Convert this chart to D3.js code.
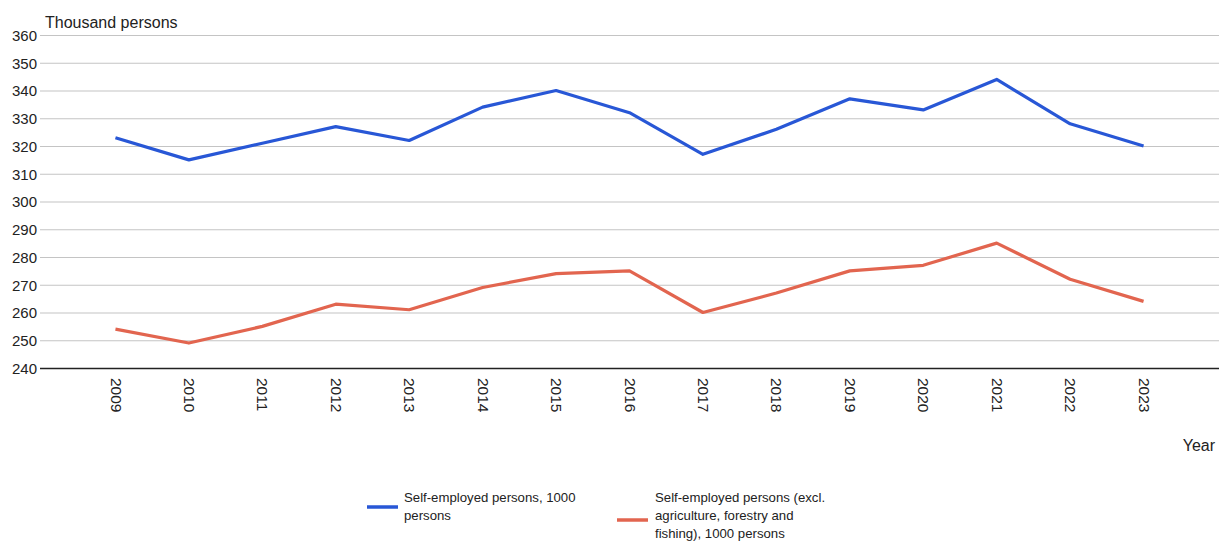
<!DOCTYPE html>
<html>
<head>
<meta charset="utf-8">
<script src="https://cdn.jsdelivr.net/npm/d3@7"></script>
<style>
  html, body { margin: 0; padding: 0; background: #fff; }
  svg { display: block; font-family: "Liberation Sans", Arial, sans-serif; }
</style>
</head>
<body>
<svg id="chart" width="1219" height="545"></svg>
<script>
// Years on the horizontal axis
const years = ["2009","2010","2011","2012","2013","2014","2015","2016","2017","2018","2019","2020","2021","2022","2023"];
// Self-employed persons, thousands
const selfEmployed = [323, 315, 321, 327, 322, 334, 340, 332, 317, 326, 337, 333, 344, 328, 320];
// Self-employed persons excluding agriculture, forestry and fishing, thousands
const selfEmployedExclAgri = [254, 249, 255, 263, 261, 269, 274, 275, 260, 267, 275, 277, 285, 272, 264];
// Vertical axis ticks
const yTicks = [240, 250, 260, 270, 280, 290, 300, 310, 320, 330, 340, 350, 360];

const seriesNames = [
  ["Self-employed persons, 1000", "persons"],
  ["Self-employed persons (excl.", "agriculture, forestry and", "fishing), 1000 persons"]
];
const colors = ["#2857d6", "#e2654f"];

const svg = d3.select("#chart");
const plotLeft = 42, plotRight = 1217, plotTop = 35, plotBottom = 368;

const x = d3.scalePoint().domain(years).range([plotLeft, plotRight]).padding(1);
const y = d3.scaleLinear().domain([240, 360]).range([plotBottom, plotTop]);

// Gridlines with y labels
const yAxis = d3.axisLeft(y).tickValues(yTicks).tickSize(-(1219 - plotLeft + 2)).tickPadding(3);
const gy = svg.append("g").attr("transform", `translate(${plotLeft - 2},0)`).call(yAxis);
gy.select(".domain").remove();
gy.selectAll(".tick line").attr("stroke", "#c4c4c4").attr("stroke-width", 1.2);
gy.selectAll(".tick text").attr("fill", "#222").attr("font-size", 15).attr("dy", "0.35em");
gy.selectAll(".tick").filter(d => d === 240).select("line").attr("stroke", "#222").attr("stroke-width", 1.6);

// Year labels, rotated
const xAxis = d3.axisBottom(x).tickSize(0).tickPadding(0);
const gx = svg.append("g").attr("transform", `translate(0,${plotBottom})`).call(xAxis);
gx.select(".domain").remove();
gx.selectAll(".tick text")
  .attr("fill", "#222").attr("font-size", 15.5)
  .attr("transform", "rotate(90)")
  .attr("x", 10).attr("y", 0).attr("dy", "0.35em")
  .attr("text-anchor", "start");

// Axis titles
svg.append("text").attr("x", 45).attr("y", 28).attr("font-size", 16).attr("fill", "#222").text("Thousand persons");
svg.append("text").attr("x", 1215).attr("y", 451).attr("font-size", 16).attr("fill", "#222").attr("text-anchor", "end").text("Year");

// Lines
const line = d3.line().x((d, i) => x(years[i])).y(d => y(d));
[selfEmployed, selfEmployedExclAgri].forEach((vals, k) => {
  svg.append("path").datum(vals)
    .attr("d", line).attr("fill", "none")
    .attr("stroke", colors[k]).attr("stroke-width", 3.2)
    .attr("stroke-linejoin", "round");
});

// Legend
const legendItems = [
  { x: 367, lineY: 507, textX: 404 },
  { x: 617, lineY: 520, textX: 655 }
];
legendItems.forEach((it, k) => {
  svg.append("line").attr("x1", it.x).attr("x2", it.x + 31)
    .attr("y1", it.lineY).attr("y2", it.lineY)
    .attr("stroke", colors[k]).attr("stroke-width", 3.5);
  const t = svg.append("text").attr("font-size", 13.2).attr("fill", "#222");
  seriesNames[k].forEach((s, j) => {
    t.append("tspan").attr("x", it.textX).attr("y", 502 + j * 18).text(s);
  });
});
</script>
</body>
</html>
